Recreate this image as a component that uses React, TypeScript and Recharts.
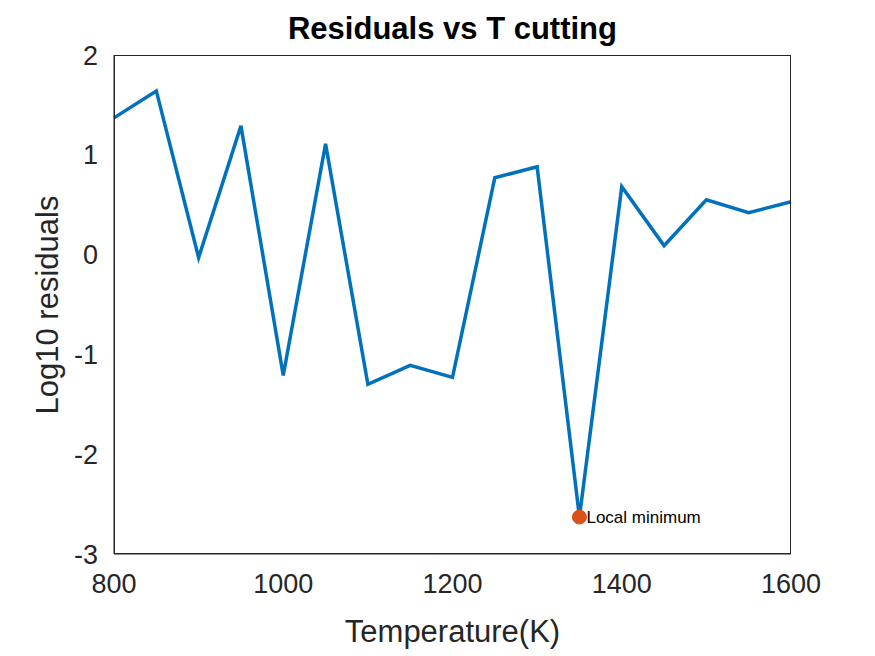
import React from "react";
import { ComposedChart, Line, XAxis, YAxis, ReferenceDot } from "recharts";

const temps = [800, 850, 900, 950, 1000, 1050, 1100, 1150, 1200, 1250, 1300, 1350, 1400, 1450, 1500, 1550, 1600];
const logResiduals = [1.37, 1.64, -0.03, 1.29, -1.21, 1.11, -1.30, -1.11, -1.23, 0.77, 0.88, -2.63, 0.68, 0.09, 0.55, 0.42, 0.53];
const xTicks = [800, 1000, 1200, 1400, 1600];
const yTicks = [-3, -2, -1, 0, 1, 2];
const minT = 1350;
const minV = -2.63;

const data = temps.map((t, i) => ({ t, v: logResiduals[i] }));
const font = "'Liberation Sans', Arial, sans-serif";

export default function App() {
  return (
    <div style={{ position: "absolute", left: 0, top: 0, width: 875, height: 656, background: "#fff", fontFamily: font }}>
      <ComposedChart width={875} height={656} data={data} margin={{ top: 55, right: 84, bottom: 42, left: 0 }}>
        <XAxis dataKey="t" type="number" domain={[800, 1600]} ticks={xTicks} height={60}
          tick={{ fontSize: 27, fill: "#262626", fontFamily: font }} tickLine={false} axisLine={{ stroke: "#262626" }} tickMargin={14} />
        <YAxis type="number" domain={[-3, 2]} ticks={yTicks} width={114}
          tick={{ fontSize: 27, fill: "#262626", fontFamily: font }} tickLine={false} axisLine={{ stroke: "#262626" }} tickMargin={10} />
        <Line dataKey="v" stroke="#0072BD" strokeWidth={3.5} dot={false} isAnimationActive={false} />
        <ReferenceDot x={minT} y={minV} r={7} fill="#D95319" stroke="#D95319"
          label={{ value: "Local minimum", position: "right", fontSize: 17, fill: "#000", offset: 0, fontFamily: font }} />
      </ComposedChart>
      <div style={{ position: "absolute", left: 114, top: 55, width: 677, height: 499, border: "1px solid #262626", boxSizing: "border-box", pointerEvents: "none" }} />
      <div style={{ position: "absolute", left: 0, width: 905, top: 11, textAlign: "center", fontSize: 31, fontWeight: "bold", color: "#000" }}>Residuals vs T cutting</div>
      <div style={{ position: "absolute", left: 114, width: 677, top: 614, textAlign: "center", fontSize: 31, color: "#262626" }}>Temperature(K)</div>
      <div style={{ position: "absolute", left: 48, top: 305, transform: "translate(-50%,-50%) rotate(-90deg)", fontSize: 31, color: "#262626", whiteSpace: "nowrap" }}>Log10 residuals</div>
    </div>
  );
}
